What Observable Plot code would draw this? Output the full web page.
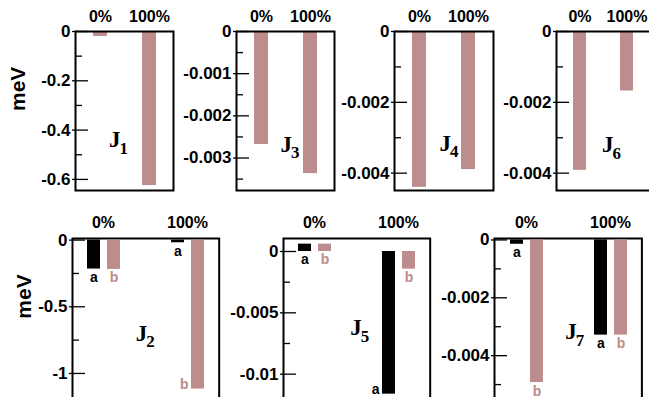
<!DOCTYPE html>
<html>
<head>
<meta charset="utf-8">
<script src="https://cdn.jsdelivr.net/npm/d3@7"></script>
<script src="https://cdn.jsdelivr.net/npm/@observablehq/plot@0.6"></script>
<style>
  html, body { margin: 0; padding: 0; background: #fff; }
  #fig { position: relative; width: 649px; height: 397px; overflow: hidden; background: #fff; }
  #fig svg { position: absolute; }
</style>
</head>
<body>
<div id="fig"></div>
<script>
// Exchange couplings (meV) at 0% and 100% concentration
const concentrations = ["0%", "100%"];
const configurations = ["a", "b"];

// Couplings with a single configuration: [0%, 100%]
const J1 = [-0.02, -0.625];
const J3 = [-0.00268, -0.00337];
const J4 = [-0.0044, -0.0039];
const J6 = [-0.00392, -0.00168];

// Couplings with two configurations a / b: [0%, 100%]
const J2a = [-0.217, -0.02];
const J2b = [-0.22, -1.117];
const J5a = [0.0006, -0.01163];
const J5b = [0.0006, -0.00144];
const J7a = [-0.00015, -0.00329];
const J7b = [-0.00493, -0.00329];

// Axis ticks
const ticksJ1 = [0, -0.2, -0.4, -0.6];
const minorJ1 = [-0.1, -0.3, -0.5];
const ticksJ3 = [0, -0.001, -0.002, -0.003];
const minorJ3 = [-0.0005, -0.0015, -0.0025, -0.0035];
const ticksJ46 = [0, -0.002, -0.004];
const minorJ46 = [-0.001, -0.003];
const ticksJ2 = [0, -0.5, -1];
const minorJ2 = [-0.25, -0.75];
const ticksJ5 = [0, -0.005, -0.01];
const minorJ5 = [-0.0025, -0.0075];
const ticksJ7 = [0, -0.002, -0.004];
const minorJ7 = [-0.001, -0.003, -0.005];

const PINK = "#bd8c8c";
const SANS = "'Liberation Sans', Arial, Helvetica, sans-serif";
const SERIF = "'Liberation Serif', 'Times New Roman', serif";
const fmt = d => (d === 0 ? "0" : String(d));

const fig = document.getElementById("fig");
const M = {left: 75, top: 31, right: 4, bottom: 4};

function place(svg, x, y) {
  svg.style.left = x + "px";
  svg.style.top = y + "px";
  fig.appendChild(svg);
}

// y axis: labels outside, major and minor ticks reaching into the frame
function yAxis(p) {
  return [
    Plot.axisY(p.ticks, {anchor: "left", tickSize: 0, tickPadding: 5, tickFormat: fmt,
      fontSize: 17, fontWeight: "bold", fontFamily: SANS, label: null}),
    Plot.axisY(p.ticks, {anchor: "left", tickSize: 16, insetLeft: 13, strokeWidth: 1.3,
      fill: "none", label: null}),
    Plot.axisY(p.minor, {anchor: "left", tickSize: 7, insetLeft: 7, strokeWidth: 1.3,
      fill: "none", label: null})
  ];
}

// panel name: bold serif J with a subscript index
function nameMarks(p) {
  return [
    Plot.text([p], {text: () => "J", frameAnchor: "middle", textAnchor: "start", lineAnchor: "bottom",
      dx: p.jdx, dy: p.jdy, fontFamily: SERIF, fontWeight: "bold", fontSize: 23}),
    Plot.text([p], {text: d => d.index, frameAnchor: "middle", textAnchor: "start", lineAnchor: "bottom",
      dx: p.jdx + 10.5, dy: p.jdy + 6.5, fontFamily: SERIF, fontWeight: "bold", fontSize: 17})
  ];
}

function unitMark(p) {
  if (!p.unit) return [];
  return [Plot.text(["meV"], {text: d => d, frameAnchor: "left", rotate: -90,
    dx: p.unit.dx, dy: p.unit.dy, fontFamily: SANS, fontWeight: "bold", fontSize: 21})];
}

function size(p) {
  return {
    width: M.left + p.w + M.right, height: M.top + p.h + M.bottom,
    marginLeft: M.left, marginTop: M.top, marginRight: M.right, marginBottom: M.bottom,
    style: {background: "none", overflow: "visible", fontFamily: SANS, color: "#000"}
  };
}

function singlePanel(p) {
  const rows = concentrations.map((c, i) => ({c, v: p.values[i]}));
  const svg = Plot.plot({
    ...size(p),
    x: {type: "band", domain: concentrations, paddingInner: 0.72, paddingOuter: 0.36},
    y: {domain: p.domain},
    marks: [
      Plot.barY(rows, {x: "c", y: "v", fill: PINK}),
      Plot.axisX({anchor: "top", tickSize: 0, tickPadding: 10, fontSize: 16, fontWeight: "bold",
        fontFamily: SANS, label: null}),
      ...yAxis(p),
      Plot.frame({stroke: "#000", strokeWidth: 2}),
      ...nameMarks(p),
      ...unitMark(p)
    ]
  });
  place(svg, p.left - M.left, p.top - M.top);
}

function pairPanel(p) {
  const rows = [];
  concentrations.forEach((c, i) => {
    rows.push({c, s: "a", v: p.a[i]});
    rows.push({c, s: "b", v: p.b[i]});
  });
  const lo = p.domain[0];
  const aside = d => d.v / lo > 0.9;  // label next to bars reaching the bottom edge
  // frame, axes and name
  const back = Plot.plot({
    ...size(p),
    x: {domain: [0, 1], axis: null},
    y: {domain: p.domain},
    marks: [
      ...yAxis(p),
      Plot.frame({stroke: "#000", strokeWidth: 2}),
      ...nameMarks(p),
      ...unitMark(p)
    ]
  });
  place(back, p.left - M.left, p.top - M.top);
  // grouped bars, one facet per concentration
  const front = Plot.plot({
    ...size(p),
    fx: {domain: concentrations, paddingInner: 0.408, paddingOuter: 0.072},
    x: {domain: configurations, paddingInner: 0.357, paddingOuter: 0.369, axis: null},
    y: {domain: p.domain, axis: null},
    color: {domain: configurations, range: ["#000", PINK]},
    marks: [
      Plot.barY(rows, {fx: "c", x: "s", y: "v", fill: "s"}),
      Plot.text(rows.filter(d => !aside(d)), {fx: "c", x: "s", y: d => Math.min(0, d.v), text: "s",
        fill: "s", lineAnchor: "bottom", dy: 13, fontSize: 14, fontWeight: "bold", fontFamily: SANS}),
      Plot.text(rows.filter(aside), {fx: "c", x: "s", y: "v", text: "s", fill: "s",
        textAnchor: "end", lineAnchor: "bottom", dx: -9.5, dy: 0, fontSize: 14, fontWeight: "bold",
        fontFamily: SANS}),
      Plot.axisFx({anchor: "top", tickSize: 0, tickPadding: 10, fontSize: 16, fontWeight: "bold",
        fontFamily: SANS, label: null})
    ]
  });
  place(front, p.left - M.left, p.top - M.top);
}

// top row
singlePanel({index: "1", values: J1, left: 75, top: 31, w: 98, h: 159, domain: [-0.645, 0],
  ticks: ticksJ1, minor: minorJ1, jdx: -15.5, jdy: 36, unit: {dx: -57, dy: 0}});
singlePanel({index: "3", values: J3, left: 235.7, top: 31, w: 98, h: 159, domain: [-0.00377, 0],
  ticks: ticksJ3, minor: minorJ3, jdx: -5, jdy: 40.5});
singlePanel({index: "4", values: J4, left: 394.3, top: 31, w: 99, h: 159, domain: [-0.00449, 0],
  ticks: ticksJ46, minor: minorJ46, jdx: -4.5, jdy: 39.5});
singlePanel({index: "6", values: J6, left: 555.7, top: 31, w: 95, h: 159, domain: [-0.00449, 0],
  ticks: ticksJ46, minor: minorJ46, jdx: -2, jdy: 41});

// bottom row
pairPanel({index: "2", a: J2a, b: J2b, left: 71.7, top: 237.7, w: 146.7, h: 162.3, domain: [-1.205, 0.012],
  ticks: ticksJ2, minor: minorJ2, jdx: -10, jdy: 21, unit: {dx: -48, dy: -1}});
pairPanel({index: "5", a: J5a, b: J5b, left: 283.3, top: 237.7, w: 146.7, h: 162.3, domain: [-0.01217, 0.00106],
  ticks: ticksJ5, minor: minorJ5, jdx: -6.6, jdy: 15.5});
pairPanel({index: "7", a: J7a, b: J7b, left: 494.3, top: 237.7, w: 147.4, h: 162.3, domain: [-0.00556, 0.00005],
  ticks: ticksJ7, minor: minorJ7, jdx: -3, jdy: 19.5});
</script>
</body>
</html>
